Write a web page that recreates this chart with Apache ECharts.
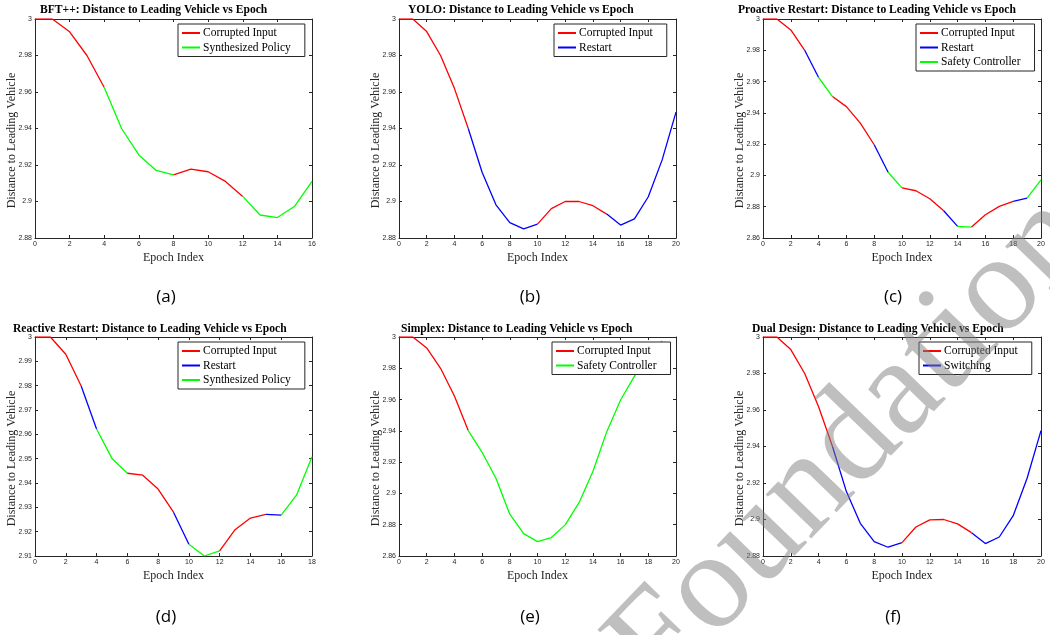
<!DOCTYPE html>
<html>
<head>
<meta charset="utf-8">
<script src="https://cdn.jsdelivr.net/npm/echarts@6/dist/echarts.min.js"></script>
<style>
  html, body { margin: 0; padding: 0; background: #fff; }
  #chart { width: 1050px; height: 635px; }
</style>
</head>
<body>
<div id="chart"></div>
<script>
// epoch values (y) per panel, x = 0..n
const bftY = [3.0, 3.0, 2.993, 2.980, 2.9625, 2.940, 2.9255, 2.917, 2.9146, 2.9177, 2.9163, 2.911, 2.9028, 2.8926, 2.8912, 2.8974, 2.911];
const yoloY = [3.0, 3.0, 2.9931, 2.980, 2.962, 2.940, 2.916, 2.8982, 2.8884, 2.885, 2.8876, 2.8961, 2.9, 2.9, 2.8977, 2.8931, 2.8871, 2.8905, 2.9026, 2.9228, 2.949];
const proY = [3.0, 3.0, 2.993, 2.980, 2.9626, 2.9504, 2.944, 2.9334, 2.9196, 2.902, 2.892, 2.8902, 2.8851, 2.8774, 2.8674, 2.867, 2.8749, 2.8802, 2.8834, 2.8855, 2.8972];
const reaY = [3.0, 3.0, 2.9929, 2.9799, 2.9622, 2.9501, 2.944, 2.9432, 2.9375, 2.928, 2.9148, 2.910, 2.9121, 2.9208, 2.9256, 2.9271, 2.9268, 2.9351, 2.9508];
const simY = [3.0, 3.0, 2.993, 2.980, 2.9623, 2.9402, 2.9263, 2.9097, 2.8867, 2.8743, 2.8692, 2.8718, 2.8799, 2.8941, 2.914, 2.9395, 2.9597, 2.975, 2.988, 2.9975];
const dualY = [3.0, 3.0, 2.9931, 2.980, 2.9618, 2.940, 2.9153, 2.8979, 2.8879, 2.8848, 2.8873, 2.8959, 2.8998, 2.9, 2.8976, 2.8928, 2.8868, 2.8904, 2.9021, 2.9226, 2.9487];

// segments: [from epoch, to epoch, mode]
const bftSeg = [[0, 4, 'Corrupted Input'], [4, 8, 'Synthesized Policy'], [8, 12, 'Corrupted Input'], [12, 16, 'Synthesized Policy']];
const yoloSeg = [[0, 5, 'Corrupted Input'], [5, 10, 'Restart'], [10, 15, 'Corrupted Input'], [15, 20, 'Restart']];
const proSeg = [[0, 3, 'Corrupted Input'], [3, 4, 'Restart'], [4, 5, 'Safety Controller'],
  [5, 8, 'Corrupted Input'], [8, 9, 'Restart'], [9, 10, 'Safety Controller'],
  [10, 13, 'Corrupted Input'], [13, 14, 'Restart'], [14, 15, 'Safety Controller'],
  [15, 18, 'Corrupted Input'], [18, 19, 'Restart'], [19, 20, 'Safety Controller']];
const reaSeg = [[0, 3, 'Corrupted Input'], [3, 4, 'Restart'], [4, 6, 'Synthesized Policy'],
  [6, 9, 'Corrupted Input'], [9, 10, 'Restart'], [10, 12, 'Synthesized Policy'],
  [12, 15, 'Corrupted Input'], [15, 16, 'Restart'], [16, 18, 'Synthesized Policy']];
const simSeg = [[0, 5, 'Corrupted Input'], [5, 19, 'Safety Controller']];
const dualSeg = [[0, 5, 'Corrupted Input'], [5, 10, 'Switching'], [10, 15, 'Corrupted Input'], [15, 20, 'Switching']];

const colors = {
  'Corrupted Input': '#ff0000',
  'Synthesized Policy': '#00ff00',
  'Safety Controller': '#00ff00',
  'Restart': '#0000ff',
  'Switching': '#0000ff'
};

const panels = [
  { title: 'BFT++: Distance to Leading Vehicle vs Epoch', y: bftY, seg: bftSeg, xMax: 16, yMin: 2.88, yStep: 0.02,
    legend: ['Corrupted Input', 'Synthesized Policy'], grid: [35, 19, 277], titlePos: [40, 3], legendPos: [178, 24], tag: '(a)', tagPos: [166, 297] },
  { title: 'YOLO: Distance to Leading Vehicle vs Epoch', y: yoloY, seg: yoloSeg, xMax: 20, yMin: 2.88, yStep: 0.02,
    legend: ['Corrupted Input', 'Restart'], grid: [399, 19, 277], titlePos: [408, 3], legendPos: [554, 24], tag: '(b)', tagPos: [530, 297] },
  { title: 'Proactive Restart: Distance to Leading Vehicle vs Epoch', y: proY, seg: proSeg, xMax: 20, yMin: 2.86, yStep: 0.02,
    legend: ['Corrupted Input', 'Restart', 'Safety Controller'], grid: [763, 19, 278], titlePos: [738, 3], legendPos: [916, 24], tag: '(c)', tagPos: [893, 297] },
  { title: 'Reactive Restart: Distance to Leading Vehicle vs Epoch', y: reaY, seg: reaSeg, xMax: 18, yMin: 2.91, yStep: 0.01,
    legend: ['Corrupted Input', 'Restart', 'Synthesized Policy'], grid: [35, 337, 277], titlePos: [13, 322], legendPos: [178, 342], tag: '(d)', tagPos: [166, 617] },
  { title: 'Simplex: Distance to Leading Vehicle vs Epoch', y: simY, seg: simSeg, xMax: 20, yMin: 2.86, yStep: 0.02,
    legend: ['Corrupted Input', 'Safety Controller'], grid: [399, 337, 277], titlePos: [401, 322], legendPos: [552, 342], tag: '(e)', tagPos: [530, 617] },
  { title: 'Dual Design: Distance to Leading Vehicle vs Epoch', y: dualY, seg: dualSeg, xMax: 20, yMin: 2.88, yStep: 0.02,
    legend: ['Corrupted Input', 'Switching'], grid: [763, 337, 278], titlePos: [752, 322], legendPos: [919, 342], tag: '(f)', tagPos: [893, 617] }
];

const axisColor = '#262626';
const serif = 'Liberation Serif';

const chart = echarts.init(document.getElementById('chart'), null, { renderer: 'canvas' });

const grids = [], xAxes = [], yAxes = [], series = [], titles = [], legends = [], graphics = [];

panels.forEach(function (p, i) {
  grids.push({ left: p.grid[0], top: p.grid[1], width: p.grid[2], height: 219, containLabel: false });
  const baseX = {
    type: 'value', gridIndex: i, min: 0, max: p.xMax, interval: 2,
    axisLine: { onZero: false, lineStyle: { color: axisColor, width: 1 } },
    axisTick: { inside: true, length: 3, lineStyle: { color: axisColor } },
    splitLine: { show: false }
  };
  xAxes.push(Object.assign({}, baseX, {
    position: 'bottom',
    axisLabel: { fontSize: 7, color: axisColor, fontFamily: 'Liberation Sans', margin: 3 },
    name: 'Epoch Index', nameLocation: 'middle', nameGap: 14, nameMoveOverlap: false,
    nameTextStyle: { fontFamily: serif, fontSize: 12, color: axisColor }
  }));
  xAxes.push(Object.assign({}, baseX, { position: 'top', axisLabel: { show: false } }));
  const baseY = {
    type: 'value', gridIndex: i, min: p.yMin, max: 3, interval: p.yStep,
    axisLine: { onZero: false, lineStyle: { color: axisColor, width: 1 } },
    axisTick: { inside: true, length: 3, lineStyle: { color: axisColor } },
    splitLine: { show: false }
  };
  yAxes.push(Object.assign({}, baseY, {
    position: 'left',
    axisLabel: { fontSize: 7, color: axisColor, fontFamily: 'Liberation Sans', margin: 3 },
    name: 'Distance to Leading Vehicle', nameLocation: 'middle', nameGap: 17, nameMoveOverlap: false,
    nameTextStyle: { fontFamily: serif, fontSize: 12, color: axisColor, padding: [0, 24, 0, 0] }
  }));
  yAxes.push(Object.assign({}, baseY, { position: 'right', axisLabel: { show: false } }));

  p.seg.forEach(function (s) {
    const pts = [];
    for (let x = s[0]; x <= s[1]; x++) pts.push([x, p.y[x]]);
    series.push({
      name: s[2], type: 'line', xAxisIndex: 2 * i, yAxisIndex: 2 * i,
      data: pts, symbol: 'none', color: colors[s[2]],
      lineStyle: { width: 1.3, color: colors[s[2]] }, animation: false, z: 2
    });
  });

  titles.push({
    text: p.title, left: p.titlePos[0], top: p.titlePos[1] + 1, padding: 0,
    textStyle: { fontFamily: serif, fontWeight: 'bold', fontSize: 11.6, color: '#000' }
  });

  legends.push({
    data: p.legend, left: p.legendPos[0], top: p.legendPos[1], orient: 'vertical',
    backgroundColor: '#fff', borderColor: axisColor, borderWidth: 1, borderRadius: 0,
    padding: [3, 14, 3, 4], itemGap: 2.5, itemWidth: 18, itemHeight: 2, icon: 'rect',
    textStyle: { fontFamily: serif, fontSize: 11.5, color: '#000', padding: [0, 0, 0, -2] },
    selectedMode: false, z: 5
  });

  graphics.push({
    type: 'text', x: p.tagPos[0], y: p.tagPos[1],
    style: { text: p.tag, font: '17px "Open Sans"', fill: '#000', align: 'center', verticalAlign: 'middle' }
  });
});

// watermark
graphics.push({
  type: 'text', x: 852, y: 444, rotation: 46 * Math.PI / 180, z: 100,
  style: { text: 'Foundation', font: '138px "Liberation Serif"', fill: 'rgba(128,128,128,0.5)', align: 'center', verticalAlign: 'middle' }
});

chart.setOption({
  animation: false,
  title: titles,
  legend: legends,
  grid: grids,
  xAxis: xAxes,
  yAxis: yAxes,
  series: series,
  graphic: graphics
});
</script>
</body>
</html>
